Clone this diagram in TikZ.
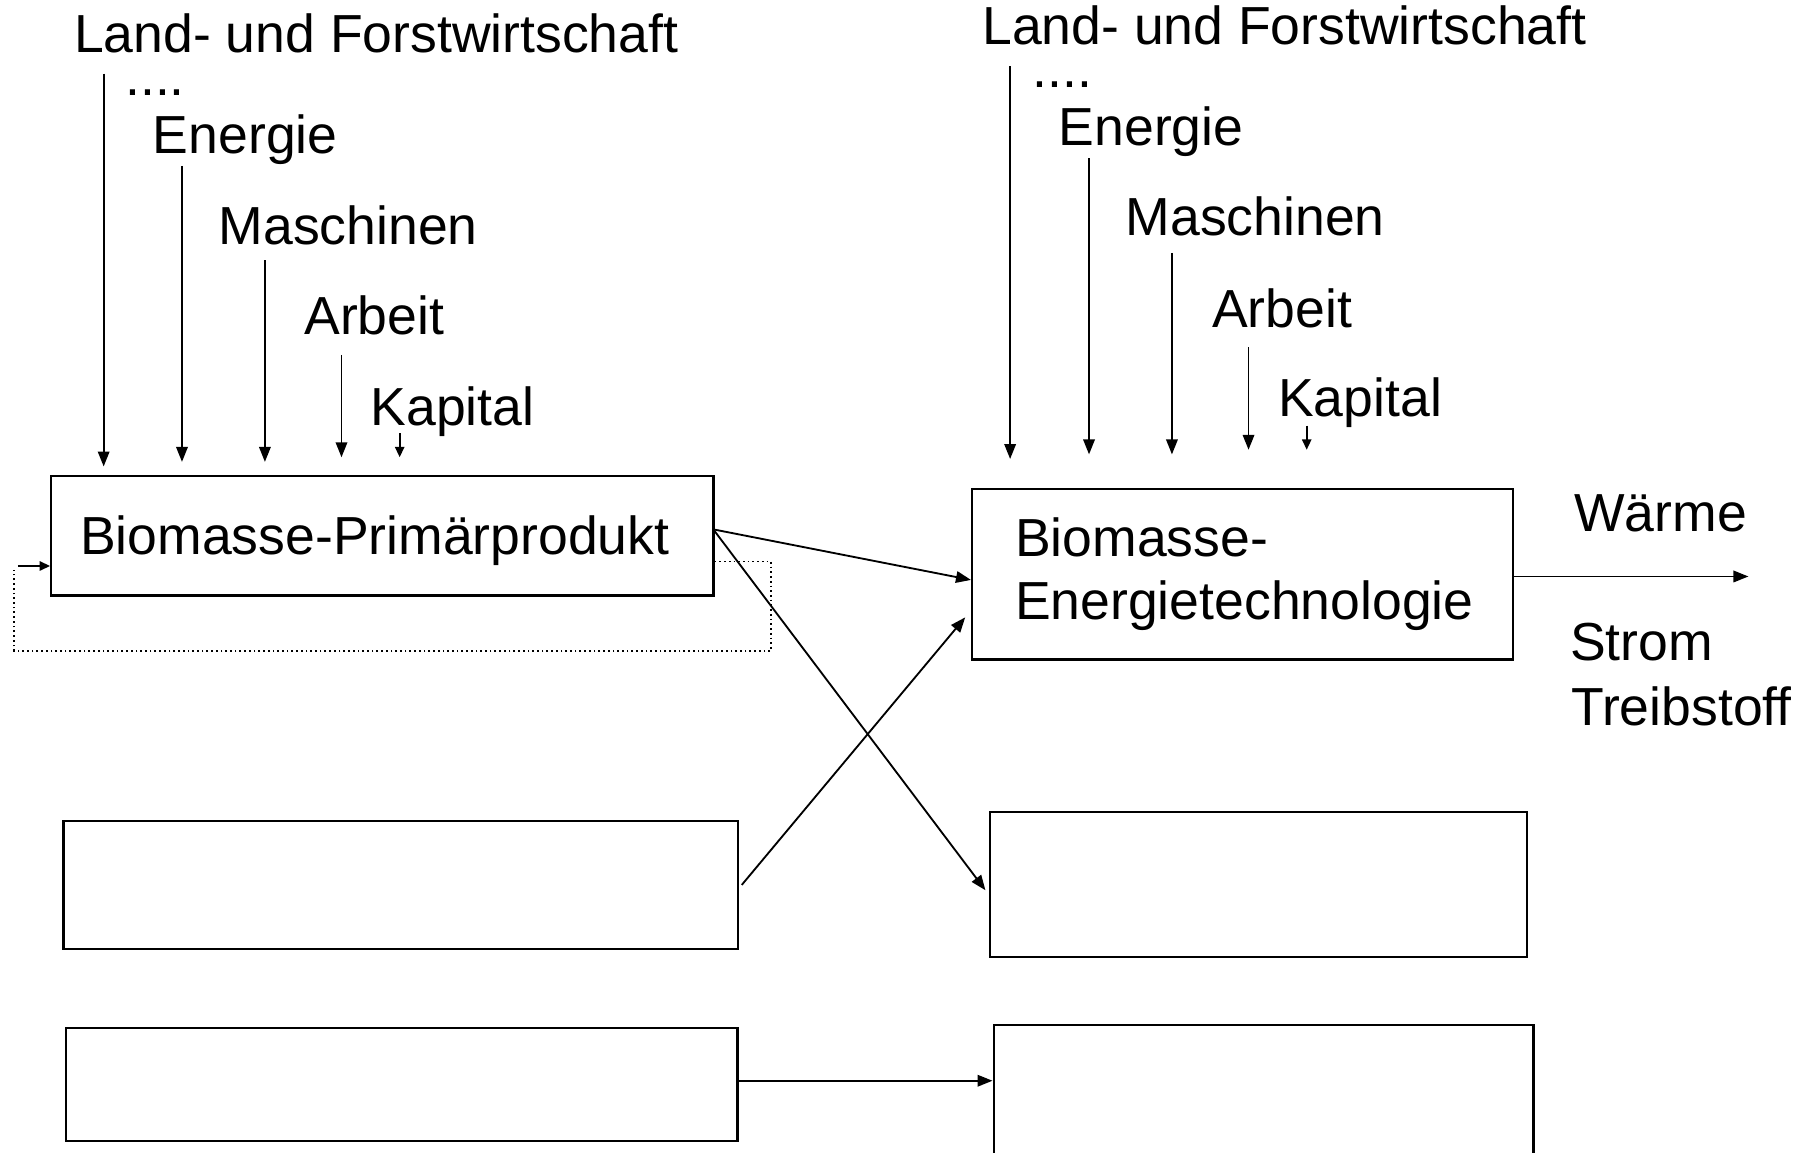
\documentclass[tikz,border=0pt]{standalone}
\usepackage{fontspec}
\setmainfont{Liberation Sans}
\usetikzlibrary{arrows.meta,calc}

\tikzset{every picture/.style={line width=1.6pt}}
\tikzset{
  lbl/.style={anchor=base west,inner sep=0pt,font=\fontsize{46.5}{55}\selectfont},
  box/.style={draw,line width=2pt,inner sep=0pt,align=left,font=\fontsize{46.5}{55}\selectfont},
  arr/.style={-{Triangle[length=13pt,width=10pt]}},
  smallarr/.style={-{Triangle[length=9pt,width=8pt]}},
}

\begin{document}
\begin{tikzpicture}[x=1pt,y=1pt,yscale=-1]
\useasboundingbox (0,0) rectangle (1568,1001);
\clip (0,0) rectangle (1568,1001);

%Shape: Rectangle
\node [box,inner xsep=25pt,text width=525pt,minimum height=104pt,text depth=0pt] (prim) at (332,465) {Biomasse-Primärprodukt};
%Shape: Rectangle
\node [box,inner xsep=37.3pt,text width=395pt,minimum height=148pt] (tech) at (1078.8,498.5) {Biomasse-\\Energietechnologie};
%Shape: Rectangle
\node [box,minimum width=586pt,minimum height=111.5pt] (lmid) at (348,768.3) {};
%Shape: Rectangle
\node [box,minimum width=466.5pt,minimum height=126.3pt] (rmid) at (1092.8,767.9) {};
%Shape: Rectangle
\node [box,minimum width=583pt,minimum height=98pt] (lbot) at (348.9,941.6) {};
%Shape: Rectangle
\node [box,minimum width=468.8pt,minimum height=130pt] (rbot) at (1097.1,955) {};

% Text Node
\draw (63.5,46) node [lbl] (lfl) {Land- und Forstwirtschaft};
% Text Node
\draw (108,82.5) node [lbl] (dotl) {....};
% Text Node
\draw (132,133) node [lbl] (enl) {Energie};
% Text Node
\draw (189,212.7) node [lbl] (mal) {Maschinen};
% Text Node
\draw (263.5,290.8) node [lbl] (arl) {Arbeit};
% Text Node
\draw (321,369) node [lbl] (kal) {Kapital};
% Text Node
\draw (852,39) node [lbl] (lfr) {Land- und Forstwirtschaft};
% Text Node
\draw (896,75.7) node [lbl] (dotr) {....};
% Text Node
\draw (918.5,126.5) node [lbl] (enr) {Energie};
% Text Node
\draw (976.5,204.6) node [lbl] (mar) {Maschinen};
% Text Node
\draw (1051.5,284.5) node [lbl] (arr) {Arbeit};
% Text Node
\draw (1109,361.8) node [lbl] (kar) {Kapital};
% Text Node
\draw (1366,461.4) node [lbl] (waerme) {Wärme};
% Text Node
\draw (1362.4,573.6) node [lbl] (strom) {Strom};
% Text Node
\draw (1363.5,629.7) node [lbl] (treib) {Treibstoff};

% input ends
\coordinate (lfa) at (90,64);      \coordinate (lfb) at (90,405);
\coordinate (ena) at (158,144);    \coordinate (enb) at (158,401);
\coordinate (maa) at (230,226);    \coordinate (mab) at (230,401);
\coordinate (ara) at (296.5,308);  \coordinate (arb) at (296.5,397);
\coordinate (kaa) at (347,376);    \coordinate (kab) at (347,397);
\coordinate (lfc) at (877,57.5);   \coordinate (lfd) at (877,398.5);
\coordinate (enc) at (945.5,137.5); \coordinate (end) at (945.5,394.5);
\coordinate (mac) at (1017.5,219.5); \coordinate (mad) at (1017.5,394.5);
\coordinate (arc) at (1084,301.5); \coordinate (ard) at (1084,390.5);
\coordinate (kac) at (1134.5,369.5); \coordinate (kad) at (1134.5,390.5);

%Straight Lines
\draw [arr] (lfa) -- (lfb);
\draw [arr] (ena) -- (enb);
\draw [arr] (maa) -- (mab);
\draw [arr] (ara) -- (arb);
\draw [smallarr] (kaa) -- (kab);
%Straight Lines
\draw [arr] (lfc) -- (lfd);
\draw [arr] (enc) -- (end);
\draw [arr] (mac) -- (mad);
\draw [arr] (arc) -- (ard);
\draw [smallarr] (kac) -- (kad);

%Straight Lines
\coordinate (pout) at (619.3,459.6);
\draw [arr] (pout) -- ($(tech.west)+(0,5)$);
\draw [arr] (pout) -- ($(rmid.west)+(-3,5)$);
\draw [arr] ($(lmid.east)+(2,0)$) -- ($(tech.west)+(-5,37.5)$);
\draw [arr] ($(lbot.east)+(0,-3.3)$) -- ($(rbot.west)+(0,-16.7)$);
\coordinate (wout) at (1518,500.5);
\draw [arr] ($(tech.east)+(0,2)$) -- (wout);

%Straight Lines (loop back)
\coordinate (fbr) at (669.4,565);
\coordinate (fbl) at (12.4,565);
\coordinate (fbt) at (12.4,495);
\coordinate (fbin) at (15.5,491.4);
\draw [line width=1.5pt,dash pattern={on 1.5pt off 2.6pt}] ($(prim.east)+(0,22.6)$) -| (fbr) -- (fbl) -- (fbt);
\draw [smallarr] (fbin) -- (fbin -| prim.west);

\end{tikzpicture}
\end{document}
